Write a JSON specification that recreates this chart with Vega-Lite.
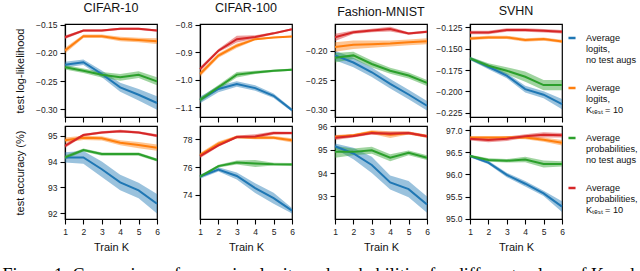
{
  "$schema": "https://vega.github.io/schema/vega-lite/v6.json",
  "padding": {"left": 2, "top": 1, "right": 0, "bottom": 0},
  "title": {"text": "Figure 1: Comparison of averaging logits and probabilities for different values of K and", "orient": "bottom", "anchor": "start", "frame": "bounds", "font": "Liberation Serif", "fontSize": 18, "fontWeight": "normal", "color": "#000", "offset": 14, "dx": -11},
  "config": {
    "font": "Liberation Sans",
    "view": {"stroke": "#000", "strokeWidth": 1.2},
    "axis": {"grid": false, "tickSize": 5, "tickColor": "#000", "tickWidth": 1.1, "domainColor": "#000", "domainWidth": 1.2, "labelFontSize": 8.5, "labelColor": "#222", "labelPadding": 3, "labelFlush": false, "titleFontSize": 11, "titleFontWeight": "normal", "titleColor": "#111"},
    "axisY": {"minExtent": 31, "titlePadding": 9},
    "axisX": {"titlePadding": 6},
    "title": {"fontSize": 12.5, "fontWeight": "normal", "offset": 6, "color": "#111"},
    "legend": {"orient": "none", "legendX": 502, "legendY": 9}
  },
  "datasets": {
    "c10ll": [
      {"series": "LN", "k": 1, "mean": -0.2209, "lo": -0.2259, "hi": -0.2159},
      {"series": "LN", "k": 2, "mean": -0.2167, "lo": -0.2217, "hi": -0.2117},
      {"series": "LN", "k": 3, "mean": -0.2374, "lo": -0.2434, "hi": -0.2314},
      {"series": "LN", "k": 4, "mean": -0.2610, "lo": -0.2690, "hi": -0.2530},
      {"series": "LN", "k": 5, "mean": -0.2741, "lo": -0.2841, "hi": -0.2641},
      {"series": "LN", "k": 6, "mean": -0.2888, "lo": -0.3008, "hi": -0.2768},
      {"series": "LK", "k": 1, "mean": -0.1960, "lo": -0.2010, "hi": -0.1910},
      {"series": "LK", "k": 2, "mean": -0.1706, "lo": -0.1736, "hi": -0.1676},
      {"series": "LK", "k": 3, "mean": -0.1706, "lo": -0.1736, "hi": -0.1676},
      {"series": "LK", "k": 4, "mean": -0.1754, "lo": -0.1794, "hi": -0.1714},
      {"series": "LK", "k": 5, "mean": -0.1771, "lo": -0.1811, "hi": -0.1731},
      {"series": "LK", "k": 6, "mean": -0.1794, "lo": -0.1844, "hi": -0.1744},
      {"series": "PN", "k": 1, "mean": -0.2255, "lo": -0.2295, "hi": -0.2215},
      {"series": "PN", "k": 2, "mean": -0.2316, "lo": -0.2356, "hi": -0.2276},
      {"series": "PN", "k": 3, "mean": -0.2387, "lo": -0.2437, "hi": -0.2337},
      {"series": "PN", "k": 4, "mean": -0.2433, "lo": -0.2493, "hi": -0.2373},
      {"series": "PN", "k": 5, "mean": -0.2387, "lo": -0.2447, "hi": -0.2327},
      {"series": "PN", "k": 6, "mean": -0.2504, "lo": -0.2574, "hi": -0.2434},
      {"series": "PK", "k": 1, "mean": -0.1724, "lo": -0.1754, "hi": -0.1694},
      {"series": "PK", "k": 2, "mean": -0.1606, "lo": -0.1626, "hi": -0.1586},
      {"series": "PK", "k": 3, "mean": -0.1606, "lo": -0.1626, "hi": -0.1586},
      {"series": "PK", "k": 4, "mean": -0.1576, "lo": -0.1596, "hi": -0.1556},
      {"series": "PK", "k": 5, "mean": -0.1576, "lo": -0.1596, "hi": -0.1556},
      {"series": "PK", "k": 6, "mean": -0.1606, "lo": -0.1626, "hi": -0.1586}
    ],
    "c100ll": [
      {"series": "LN", "k": 1, "mean": -1.073, "lo": -1.085, "hi": -1.061},
      {"series": "LN", "k": 2, "mean": -1.033, "lo": -1.045, "hi": -1.021},
      {"series": "LN", "k": 3, "mean": -1.015, "lo": -1.025, "hi": -1.005},
      {"series": "LN", "k": 4, "mean": -1.030, "lo": -1.040, "hi": -1.020},
      {"series": "LN", "k": 5, "mean": -1.058, "lo": -1.066, "hi": -1.050},
      {"series": "LN", "k": 6, "mean": -1.110, "lo": -1.116, "hi": -1.104},
      {"series": "LK", "k": 1, "mean": -0.979, "lo": -0.989, "hi": -0.969},
      {"series": "LK", "k": 2, "mean": -0.912, "lo": -0.920, "hi": -0.904},
      {"series": "LK", "k": 3, "mean": -0.876, "lo": -0.884, "hi": -0.868},
      {"series": "LK", "k": 4, "mean": -0.852, "lo": -0.856, "hi": -0.848},
      {"series": "LK", "k": 5, "mean": -0.846, "lo": -0.849, "hi": -0.843},
      {"series": "LK", "k": 6, "mean": -0.842, "lo": -0.845, "hi": -0.839},
      {"series": "PN", "k": 1, "mean": -1.073, "lo": -1.081, "hi": -1.065},
      {"series": "PN", "k": 2, "mean": -1.027, "lo": -1.035, "hi": -1.019},
      {"series": "PN", "k": 3, "mean": -0.981, "lo": -0.991, "hi": -0.971},
      {"series": "PN", "k": 4, "mean": -0.973, "lo": -0.979, "hi": -0.967},
      {"series": "PN", "k": 5, "mean": -0.967, "lo": -0.971, "hi": -0.963},
      {"series": "PN", "k": 6, "mean": -0.963, "lo": -0.967, "hi": -0.959},
      {"series": "PK", "k": 1, "mean": -0.961, "lo": -0.969, "hi": -0.953},
      {"series": "PK", "k": 2, "mean": -0.894, "lo": -0.900, "hi": -0.888},
      {"series": "PK", "k": 3, "mean": -0.852, "lo": -0.864, "hi": -0.840},
      {"series": "PK", "k": 4, "mean": -0.844, "lo": -0.850, "hi": -0.838},
      {"series": "PK", "k": 5, "mean": -0.831, "lo": -0.835, "hi": -0.827},
      {"series": "PK", "k": 6, "mean": -0.816, "lo": -0.820, "hi": -0.812}
    ],
    "fmll": [
      {"series": "LN", "k": 1, "mean": -0.208, "lo": -0.216, "hi": -0.200},
      {"series": "LN", "k": 2, "mean": -0.220, "lo": -0.228, "hi": -0.212},
      {"series": "LN", "k": 3, "mean": -0.2365, "lo": -0.2445, "hi": -0.2285},
      {"series": "LN", "k": 4, "mean": -0.256, "lo": -0.264, "hi": -0.248},
      {"series": "LN", "k": 5, "mean": -0.274, "lo": -0.282, "hi": -0.266},
      {"series": "LN", "k": 6, "mean": -0.293, "lo": -0.301, "hi": -0.285},
      {"series": "LK", "k": 1, "mean": -0.194, "lo": -0.202, "hi": -0.186},
      {"series": "LK", "k": 2, "mean": -0.190, "lo": -0.197, "hi": -0.183},
      {"series": "LK", "k": 3, "mean": -0.189, "lo": -0.195, "hi": -0.183},
      {"series": "LK", "k": 4, "mean": -0.188, "lo": -0.193, "hi": -0.183},
      {"series": "LK", "k": 5, "mean": -0.186, "lo": -0.191, "hi": -0.181},
      {"series": "LK", "k": 6, "mean": -0.184, "lo": -0.189, "hi": -0.179},
      {"series": "PN", "k": 1, "mean": -0.212, "lo": -0.220, "hi": -0.204},
      {"series": "PN", "k": 2, "mean": -0.208, "lo": -0.214, "hi": -0.202},
      {"series": "PN", "k": 3, "mean": -0.2225, "lo": -0.2285, "hi": -0.2165},
      {"series": "PN", "k": 4, "mean": -0.234, "lo": -0.239, "hi": -0.229},
      {"series": "PN", "k": 5, "mean": -0.242, "lo": -0.247, "hi": -0.237},
      {"series": "PN", "k": 6, "mean": -0.2545, "lo": -0.2595, "hi": -0.2495},
      {"series": "PK", "k": 1, "mean": -0.1775, "lo": -0.1835, "hi": -0.1715},
      {"series": "PK", "k": 2, "mean": -0.169, "lo": -0.172, "hi": -0.166},
      {"series": "PK", "k": 3, "mean": -0.166, "lo": -0.169, "hi": -0.163},
      {"series": "PK", "k": 4, "mean": -0.1635, "lo": -0.1675, "hi": -0.1595},
      {"series": "PK", "k": 5, "mean": -0.171, "lo": -0.173, "hi": -0.169},
      {"series": "PK", "k": 6, "mean": -0.168, "lo": -0.170, "hi": -0.166}
    ],
    "svhnll": [
      {"series": "LN", "k": 1, "mean": -0.1613, "lo": -0.1633, "hi": -0.1593},
      {"series": "LN", "k": 2, "mean": -0.1711, "lo": -0.1741, "hi": -0.1681},
      {"series": "LN", "k": 3, "mean": -0.1816, "lo": -0.1846, "hi": -0.1786},
      {"series": "LN", "k": 4, "mean": -0.1973, "lo": -0.2013, "hi": -0.1933},
      {"series": "LN", "k": 5, "mean": -0.2039, "lo": -0.2079, "hi": -0.1999},
      {"series": "LN", "k": 6, "mean": -0.2148, "lo": -0.2208, "hi": -0.2088},
      {"series": "LK", "k": 1, "mean": -0.1379, "lo": -0.1399, "hi": -0.1359},
      {"series": "LK", "k": 2, "mean": -0.1367, "lo": -0.1387, "hi": -0.1347},
      {"series": "LK", "k": 3, "mean": -0.1367, "lo": -0.1387, "hi": -0.1347},
      {"series": "LK", "k": 4, "mean": -0.1398, "lo": -0.1418, "hi": -0.1378},
      {"series": "LK", "k": 5, "mean": -0.1387, "lo": -0.1407, "hi": -0.1367},
      {"series": "LK", "k": 6, "mean": -0.1414, "lo": -0.1434, "hi": -0.1394},
      {"series": "PN", "k": 1, "mean": -0.1613, "lo": -0.1633, "hi": -0.1593},
      {"series": "PN", "k": 2, "mean": -0.1699, "lo": -0.1729, "hi": -0.1669},
      {"series": "PN", "k": 3, "mean": -0.1758, "lo": -0.1798, "hi": -0.1718},
      {"series": "PN", "k": 4, "mean": -0.1828, "lo": -0.1888, "hi": -0.1768},
      {"series": "PN", "k": 5, "mean": -0.1926, "lo": -0.1986, "hi": -0.1866},
      {"series": "PN", "k": 6, "mean": -0.1926, "lo": -0.1986, "hi": -0.1866},
      {"series": "PK", "k": 1, "mean": -0.1309, "lo": -0.1329, "hi": -0.1289},
      {"series": "PK", "k": 2, "mean": -0.1309, "lo": -0.1329, "hi": -0.1289},
      {"series": "PK", "k": 3, "mean": -0.1281, "lo": -0.1301, "hi": -0.1261},
      {"series": "PK", "k": 4, "mean": -0.1281, "lo": -0.1301, "hi": -0.1261},
      {"series": "PK", "k": 5, "mean": -0.1289, "lo": -0.1309, "hi": -0.1269},
      {"series": "PK", "k": 6, "mean": -0.1301, "lo": -0.1321, "hi": -0.1281}
    ],
    "c10acc": [
      {"series": "LN", "k": 1, "mean": 94.16, "lo": 93.96, "hi": 94.36},
      {"series": "LN", "k": 2, "mean": 94.16, "lo": 93.91, "hi": 94.41},
      {"series": "LN", "k": 3, "mean": 93.70, "lo": 93.40, "hi": 94.00},
      {"series": "LN", "k": 4, "mean": 93.19, "lo": 92.89, "hi": 93.49},
      {"series": "LN", "k": 5, "mean": 92.88, "lo": 92.58, "hi": 93.18},
      {"series": "LN", "k": 6, "mean": 92.36, "lo": 91.98, "hi": 92.74},
      {"series": "LK", "k": 1, "mean": 94.83, "lo": 94.73, "hi": 94.93},
      {"series": "LK", "k": 2, "mean": 94.92, "lo": 94.84, "hi": 95.00},
      {"series": "LK", "k": 3, "mean": 94.90, "lo": 94.82, "hi": 94.98},
      {"series": "LK", "k": 4, "mean": 94.73, "lo": 94.63, "hi": 94.83},
      {"series": "LK", "k": 5, "mean": 94.64, "lo": 94.52, "hi": 94.76},
      {"series": "LK", "k": 6, "mean": 94.54, "lo": 94.42, "hi": 94.66},
      {"series": "PN", "k": 1, "mean": 94.16, "lo": 94.08, "hi": 94.24},
      {"series": "PN", "k": 2, "mean": 94.45, "lo": 94.39, "hi": 94.51},
      {"series": "PN", "k": 3, "mean": 94.29, "lo": 94.23, "hi": 94.35},
      {"series": "PN", "k": 4, "mean": 94.29, "lo": 94.23, "hi": 94.35},
      {"series": "PN", "k": 5, "mean": 94.29, "lo": 94.23, "hi": 94.35},
      {"series": "PN", "k": 6, "mean": 94.06, "lo": 94.00, "hi": 94.12},
      {"series": "PK", "k": 1, "mean": 94.61, "lo": 94.53, "hi": 94.69},
      {"series": "PK", "k": 2, "mean": 95.03, "lo": 94.98, "hi": 95.08},
      {"series": "PK", "k": 3, "mean": 95.13, "lo": 95.08, "hi": 95.18},
      {"series": "PK", "k": 4, "mean": 95.18, "lo": 95.13, "hi": 95.23},
      {"series": "PK", "k": 5, "mean": 95.13, "lo": 95.08, "hi": 95.18},
      {"series": "PK", "k": 6, "mean": 95.00, "lo": 94.94, "hi": 95.06}
    ],
    "c100acc": [
      {"series": "LN", "k": 1, "mean": 75.31, "lo": 75.16, "hi": 75.46},
      {"series": "LN", "k": 2, "mean": 75.83, "lo": 75.68, "hi": 75.98},
      {"series": "LN", "k": 3, "mean": 75.36, "lo": 75.11, "hi": 75.61},
      {"series": "LN", "k": 4, "mean": 74.48, "lo": 74.13, "hi": 74.83},
      {"series": "LN", "k": 5, "mean": 73.76, "lo": 73.36, "hi": 74.16},
      {"series": "LN", "k": 6, "mean": 72.86, "lo": 72.66, "hi": 73.06},
      {"series": "LK", "k": 1, "mean": 76.86, "lo": 76.71, "hi": 77.01},
      {"series": "LK", "k": 2, "mean": 77.69, "lo": 77.54, "hi": 77.84},
      {"series": "LK", "k": 3, "mean": 78.17, "lo": 78.07, "hi": 78.27},
      {"series": "LK", "k": 4, "mean": 78.12, "lo": 78.00, "hi": 78.24},
      {"series": "LK", "k": 5, "mean": 78.12, "lo": 78.00, "hi": 78.24},
      {"series": "LK", "k": 6, "mean": 77.93, "lo": 77.78, "hi": 78.08},
      {"series": "PN", "k": 1, "mean": 75.31, "lo": 75.21, "hi": 75.41},
      {"series": "PN", "k": 2, "mean": 76.07, "lo": 75.97, "hi": 76.17},
      {"series": "PN", "k": 3, "mean": 76.33, "lo": 76.18, "hi": 76.48},
      {"series": "PN", "k": 4, "mean": 76.26, "lo": 76.01, "hi": 76.51},
      {"series": "PN", "k": 5, "mean": 76.21, "lo": 76.11, "hi": 76.31},
      {"series": "PN", "k": 6, "mean": 76.19, "lo": 76.09, "hi": 76.29},
      {"series": "PK", "k": 1, "mean": 76.79, "lo": 76.64, "hi": 76.94},
      {"series": "PK", "k": 2, "mean": 77.57, "lo": 77.47, "hi": 77.67},
      {"series": "PK", "k": 3, "mean": 78.17, "lo": 78.07, "hi": 78.27},
      {"series": "PK", "k": 4, "mean": 78.21, "lo": 78.06, "hi": 78.36},
      {"series": "PK", "k": 5, "mean": 78.45, "lo": 78.33, "hi": 78.57},
      {"series": "PK", "k": 6, "mean": 78.45, "lo": 78.35, "hi": 78.55}
    ],
    "fmacc": [
      {"series": "LN", "k": 1, "mean": 95.15, "lo": 95.03, "hi": 95.27},
      {"series": "LN", "k": 2, "mean": 94.84, "lo": 94.59, "hi": 95.09},
      {"series": "LN", "k": 3, "mean": 94.35, "lo": 94.00, "hi": 94.70},
      {"series": "LN", "k": 4, "mean": 93.60, "lo": 93.30, "hi": 93.90},
      {"series": "LN", "k": 5, "mean": 93.31, "lo": 92.96, "hi": 93.66},
      {"series": "LN", "k": 6, "mean": 92.65, "lo": 92.30, "hi": 93.00},
      {"series": "LK", "k": 1, "mean": 95.55, "lo": 95.47, "hi": 95.63},
      {"series": "LK", "k": 2, "mean": 95.62, "lo": 95.56, "hi": 95.68},
      {"series": "LK", "k": 3, "mean": 95.76, "lo": 95.68, "hi": 95.84},
      {"series": "LK", "k": 4, "mean": 95.65, "lo": 95.50, "hi": 95.80},
      {"series": "LK", "k": 5, "mean": 95.72, "lo": 95.66, "hi": 95.78},
      {"series": "LK", "k": 6, "mean": 95.58, "lo": 95.52, "hi": 95.64},
      {"series": "PN", "k": 1, "mean": 94.91, "lo": 94.66, "hi": 95.16},
      {"series": "PN", "k": 2, "mean": 94.91, "lo": 94.76, "hi": 95.06},
      {"series": "PN", "k": 3, "mean": 94.98, "lo": 94.83, "hi": 95.13},
      {"series": "PN", "k": 4, "mean": 94.66, "lo": 94.51, "hi": 94.81},
      {"series": "PN", "k": 5, "mean": 94.87, "lo": 94.77, "hi": 94.97},
      {"series": "PN", "k": 6, "mean": 94.66, "lo": 94.56, "hi": 94.76},
      {"series": "PK", "k": 1, "mean": 95.52, "lo": 95.42, "hi": 95.62},
      {"series": "PK", "k": 2, "mean": 95.59, "lo": 95.53, "hi": 95.65},
      {"series": "PK", "k": 3, "mean": 95.72, "lo": 95.66, "hi": 95.78},
      {"series": "PK", "k": 4, "mean": 95.69, "lo": 95.61, "hi": 95.77},
      {"series": "PK", "k": 5, "mean": 95.72, "lo": 95.66, "hi": 95.78},
      {"series": "PK", "k": 6, "mean": 95.58, "lo": 95.52, "hi": 95.64}
    ],
    "svhnacc": [
      {"series": "LN", "k": 1, "mean": 96.42, "lo": 96.39, "hi": 96.45},
      {"series": "LN", "k": 2, "mean": 96.27, "lo": 96.23, "hi": 96.31},
      {"series": "LN", "k": 3, "mean": 95.99, "lo": 95.94, "hi": 96.04},
      {"series": "LN", "k": 4, "mean": 95.79, "lo": 95.73, "hi": 95.85},
      {"series": "LN", "k": 5, "mean": 95.57, "lo": 95.51, "hi": 95.63},
      {"series": "LN", "k": 6, "mean": 95.27, "lo": 95.15, "hi": 95.39},
      {"series": "LK", "k": 1, "mean": 96.84, "lo": 96.81, "hi": 96.87},
      {"series": "LK", "k": 2, "mean": 96.84, "lo": 96.81, "hi": 96.87},
      {"series": "LK", "k": 3, "mean": 96.84, "lo": 96.81, "hi": 96.87},
      {"series": "LK", "k": 4, "mean": 96.84, "lo": 96.80, "hi": 96.88},
      {"series": "LK", "k": 5, "mean": 96.79, "lo": 96.74, "hi": 96.84},
      {"series": "LK", "k": 6, "mean": 96.72, "lo": 96.66, "hi": 96.78},
      {"series": "PN", "k": 1, "mean": 96.42, "lo": 96.39, "hi": 96.45},
      {"series": "PN", "k": 2, "mean": 96.33, "lo": 96.29, "hi": 96.37},
      {"series": "PN", "k": 3, "mean": 96.31, "lo": 96.27, "hi": 96.35},
      {"series": "PN", "k": 4, "mean": 96.34, "lo": 96.28, "hi": 96.40},
      {"series": "PN", "k": 5, "mean": 96.24, "lo": 96.16, "hi": 96.32},
      {"series": "PN", "k": 6, "mean": 96.24, "lo": 96.18, "hi": 96.30},
      {"series": "PK", "k": 1, "mean": 96.81, "lo": 96.77, "hi": 96.85},
      {"series": "PK", "k": 2, "mean": 96.78, "lo": 96.73, "hi": 96.83},
      {"series": "PK", "k": 3, "mean": 96.81, "lo": 96.76, "hi": 96.86},
      {"series": "PK", "k": 4, "mean": 96.87, "lo": 96.83, "hi": 96.91},
      {"series": "PK", "k": 5, "mean": 96.90, "lo": 96.84, "hi": 96.96},
      {"series": "PK", "k": 6, "mean": 96.89, "lo": 96.84, "hi": 96.94}
    ]
  },
  "columns": 4,
  "spacing": {"row": 9, "column": 43},
  "bounds": "flush",
  "concat": [
    {
      "width": 92, "height": 93, "title": "CIFAR-10", "data": {"name": "c10ll"},
      "encoding": {
        "x": {"field": "k", "type": "quantitative", "scale": {"domain": [1, 6], "nice": false}, "axis": {"values": [1, 2, 3, 4, 5, 6], "labels": false, "title": null}},
        "color": {"field": "series", "type": "nominal", "scale": {"domain": ["LN", "LK", "PN", "PK"], "range": ["#1f77b4", "#ff7f0e", "#2ca02c", "#d62728"]},
          "legend": {"title": null, "symbolType": "stroke", "symbolStrokeWidth": 2.5, "symbolSize": 50, "labelFontSize": 9.2, "labelColor": "#111", "labelLimit": 0, "labelOffset": 9, "rowPadding": 17,
            "labelExpr": "datum.value == 'LN' ? ['Average', 'logits,', 'no test augs'] : datum.value == 'LK' ? ['Average', 'logits,', 'Kₜₑₛₜ = 10'] : datum.value == 'PN' ? ['Average', 'probabilities,', 'no test augs'] : ['Average', 'probabilities,', 'Kₜₑₛₜ = 10']",
            "encode": {"labels": {"update": {"lineHeight": {"value": 11}}}}}}
      },
      "layer": [
        {"mark": {"type": "area", "opacity": 0.45}, "encoding": {"y": {"field": "lo", "type": "quantitative", "scale": {"domain": [-0.3135, -0.149], "nice": false, "zero": false}, "axis": {"values": [-0.3, -0.25, -0.2, -0.15], "format": ".2f", "title": "test log-likelihood"}}, "y2": {"field": "hi"}}},
        {"mark": {"type": "line", "strokeWidth": 2}, "encoding": {"y": {"field": "mean", "type": "quantitative", "axis": {"values": [-0.3, -0.25, -0.2, -0.15], "format": ".2f", "title": "test log-likelihood"}}}}
      ]
    },
    {
      "width": 92, "height": 93, "title": "CIFAR-100", "data": {"name": "c100ll"},
      "encoding": {
        "x": {"field": "k", "type": "quantitative", "scale": {"domain": [1, 6], "nice": false}, "axis": {"values": [1, 2, 3, 4, 5, 6], "labels": false, "title": null}},
        "color": {"field": "series", "type": "nominal"}
      },
      "layer": [
        {"mark": {"type": "area", "opacity": 0.45}, "encoding": {"y": {"field": "lo", "type": "quantitative", "scale": {"domain": [-1.135, -0.797], "nice": false, "zero": false}, "axis": {"values": [-1.1, -1.0, -0.9, -0.8], "format": ".1f", "title": null}}, "y2": {"field": "hi"}}},
        {"mark": {"type": "line", "strokeWidth": 2}, "encoding": {"y": {"field": "mean", "type": "quantitative", "axis": {"values": [-1.1, -1.0, -0.9, -0.8], "format": ".1f", "title": null}}}}
      ]
    },
    {
      "width": 92, "height": 93, "title": "Fashion-MNIST", "data": {"name": "fmll"},
      "encoding": {
        "x": {"field": "k", "type": "quantitative", "scale": {"domain": [1, 6], "nice": false}, "axis": {"values": [1, 2, 3, 4, 5, 6], "labels": false, "title": null}},
        "color": {"field": "series", "type": "nominal"}
      },
      "layer": [
        {"mark": {"type": "area", "opacity": 0.45}, "encoding": {"y": {"field": "lo", "type": "quantitative", "scale": {"domain": [-0.312, -0.155], "nice": false, "zero": false}, "axis": {"values": [-0.3, -0.25, -0.2], "format": ".2f", "title": null}}, "y2": {"field": "hi"}}},
        {"mark": {"type": "line", "strokeWidth": 2}, "encoding": {"y": {"field": "mean", "type": "quantitative", "axis": {"values": [-0.3, -0.25, -0.2], "format": ".2f", "title": null}}}}
      ]
    },
    {
      "width": 92, "height": 93, "title": "SVHN", "data": {"name": "svhnll"},
      "encoding": {
        "x": {"field": "k", "type": "quantitative", "scale": {"domain": [1, 6], "nice": false}, "axis": {"values": [1, 2, 3, 4, 5, 6], "labels": false, "title": null}},
        "color": {"field": "series", "type": "nominal"}
      },
      "layer": [
        {"mark": {"type": "area", "opacity": 0.45}, "encoding": {"y": {"field": "lo", "type": "quantitative", "scale": {"domain": [-0.23, -0.121], "nice": false, "zero": false}, "axis": {"values": [-0.225, -0.2, -0.175, -0.15, -0.125], "format": ".3f", "title": null}}, "y2": {"field": "hi"}}},
        {"mark": {"type": "line", "strokeWidth": 2}, "encoding": {"y": {"field": "mean", "type": "quantitative", "axis": {"values": [-0.225, -0.2, -0.175, -0.15, -0.125], "format": ".3f", "title": null}}}}
      ]
    },
    {
      "width": 92, "height": 93, "data": {"name": "c10acc"},
      "encoding": {
        "x": {"field": "k", "type": "quantitative", "scale": {"domain": [1, 6], "nice": false}, "axis": {"values": [1, 2, 3, 4, 5, 6], "format": "d", "title": "Train K"}},
        "color": {"field": "series", "type": "nominal"}
      },
      "layer": [
        {"mark": {"type": "area", "opacity": 0.45}, "encoding": {"y": {"field": "lo", "type": "quantitative", "scale": {"domain": [91.77, 95.38], "nice": false, "zero": false}, "axis": {"values": [92, 93, 94, 95], "format": "d", "title": "test accuracy (%)"}}, "y2": {"field": "hi"}}},
        {"mark": {"type": "line", "strokeWidth": 2}, "encoding": {"y": {"field": "mean", "type": "quantitative", "axis": {"values": [92, 93, 94, 95], "format": "d", "title": "test accuracy (%)"}}}}
      ]
    },
    {
      "width": 92, "height": 93, "data": {"name": "c100acc"},
      "encoding": {
        "x": {"field": "k", "type": "quantitative", "scale": {"domain": [1, 6], "nice": false}, "axis": {"values": [1, 2, 3, 4, 5, 6], "format": "d", "title": "Train K"}},
        "color": {"field": "series", "type": "nominal"}
      },
      "layer": [
        {"mark": {"type": "area", "opacity": 0.45}, "encoding": {"y": {"field": "lo", "type": "quantitative", "scale": {"domain": [72.26, 78.96], "nice": false, "zero": false}, "axis": {"values": [74, 76, 78], "format": "d", "title": null}}, "y2": {"field": "hi"}}},
        {"mark": {"type": "line", "strokeWidth": 2}, "encoding": {"y": {"field": "mean", "type": "quantitative", "axis": {"values": [74, 76, 78], "format": "d", "title": null}}}}
      ]
    },
    {
      "width": 92, "height": 93, "data": {"name": "fmacc"},
      "encoding": {
        "x": {"field": "k", "type": "quantitative", "scale": {"domain": [1, 6], "nice": false}, "axis": {"values": [1, 2, 3, 4, 5, 6], "format": "d", "title": "Train K"}},
        "color": {"field": "series", "type": "nominal"}
      },
      "layer": [
        {"mark": {"type": "area", "opacity": 0.45}, "encoding": {"y": {"field": "lo", "type": "quantitative", "scale": {"domain": [92.03, 96.02], "nice": false, "zero": false}, "axis": {"values": [93, 94, 95, 96], "format": "d", "title": null}}, "y2": {"field": "hi"}}},
        {"mark": {"type": "line", "strokeWidth": 2}, "encoding": {"y": {"field": "mean", "type": "quantitative", "axis": {"values": [93, 94, 95, 96], "format": "d", "title": null}}}}
      ]
    },
    {
      "width": 92, "height": 93, "data": {"name": "svhnacc"},
      "encoding": {
        "x": {"field": "k", "type": "quantitative", "scale": {"domain": [1, 6], "nice": false}, "axis": {"values": [1, 2, 3, 4, 5, 6], "format": "d", "title": "Train K"}},
        "color": {"field": "series", "type": "nominal"}
      },
      "layer": [
        {"mark": {"type": "area", "opacity": 0.45}, "encoding": {"y": {"field": "lo", "type": "quantitative", "scale": {"domain": [94.99, 97.1], "nice": false, "zero": false}, "axis": {"values": [95, 95.5, 96, 96.5, 97], "format": ".1f", "title": null}}, "y2": {"field": "hi"}}},
        {"mark": {"type": "line", "strokeWidth": 2}, "encoding": {"y": {"field": "mean", "type": "quantitative", "axis": {"values": [95, 95.5, 96, 96.5, 97], "format": ".1f", "title": null}}}}
      ]
    }
  ]
}
